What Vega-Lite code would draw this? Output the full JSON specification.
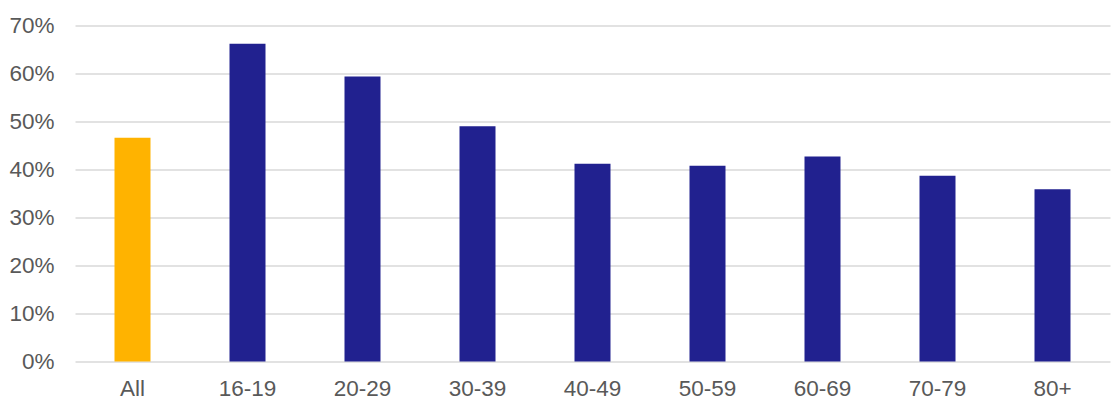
{
  "$schema": "https://vega.github.io/schema/vega-lite/v6.json",
  "autosize": {"type": "none"},
  "padding": {"left": 75, "top": 25.5, "right": 9, "bottom": 46},
  "width": 1035,
  "height": 336,
  "background": "white",
  "config": {
    "view": {"stroke": null},
    "font": "Liberation Sans"
  },
  "data": {
    "values": [
      {"group": "All", "value": 0.466, "highlight": "all"},
      {"group": "16-19", "value": 0.662, "highlight": "age"},
      {"group": "20-29", "value": 0.594, "highlight": "age"},
      {"group": "30-39", "value": 0.490, "highlight": "age"},
      {"group": "40-49", "value": 0.412, "highlight": "age"},
      {"group": "50-59", "value": 0.408, "highlight": "age"},
      {"group": "60-69", "value": 0.427, "highlight": "age"},
      {"group": "70-79", "value": 0.387, "highlight": "age"},
      {"group": "80+", "value": 0.359, "highlight": "age"}
    ]
  },
  "mark": {"type": "bar"},
  "encoding": {
    "x": {
      "field": "group",
      "type": "nominal",
      "sort": null,
      "scale": {"paddingInner": 0.687, "paddingOuter": 0.3435},
      "axis": {
        "title": null,
        "labelAngle": 0,
        "ticks": false,
        "domain": false,
        "labelFontSize": 22.5,
        "labelColor": "#595959",
        "labelPadding": 15.5
      }
    },
    "y": {
      "field": "value",
      "type": "quantitative",
      "scale": {"domain": [0, 0.7], "nice": false},
      "axis": {
        "title": null,
        "format": ".0%",
        "values": [0, 0.1, 0.2, 0.3, 0.4, 0.5, 0.6, 0.7],
        "ticks": false,
        "domain": false,
        "labelFontSize": 22.5,
        "labelColor": "#595959",
        "labelPadding": 21,
        "gridColor": "#d9d9d9",
        "gridWidth": 1.5
      }
    },
    "color": {
      "field": "highlight",
      "type": "nominal",
      "scale": {"domain": ["all", "age"], "range": ["#FFB300", "#21218F"]},
      "legend": null
    }
  }
}
